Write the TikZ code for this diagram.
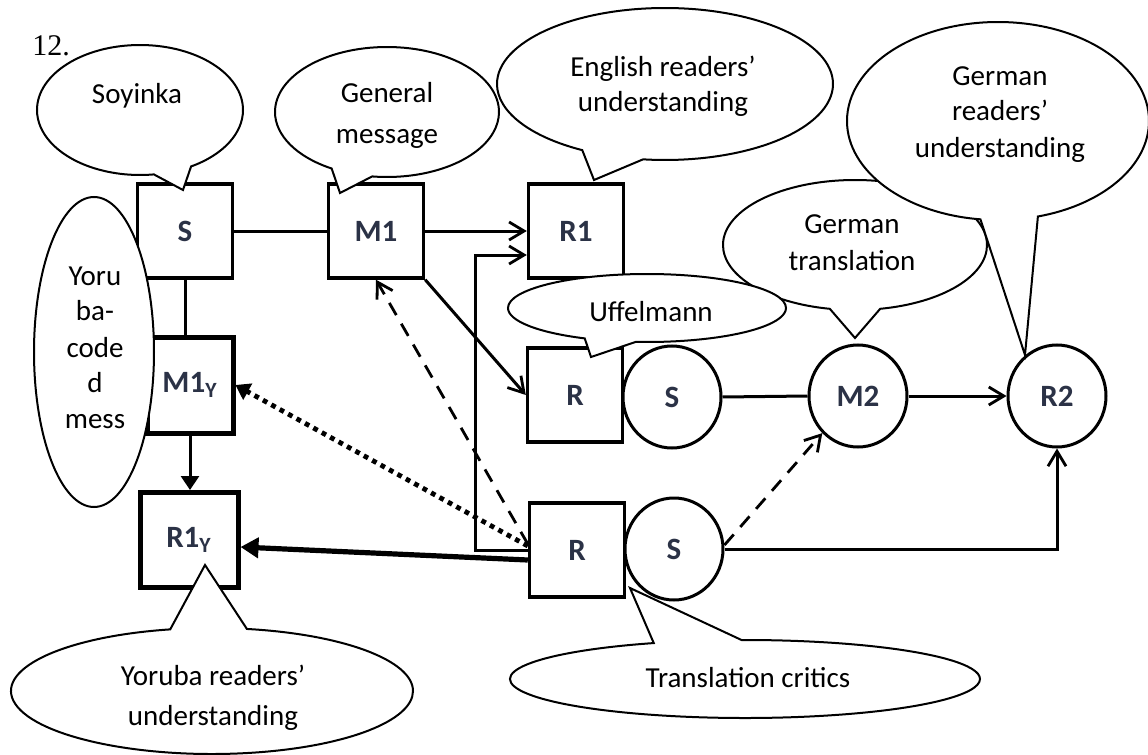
\documentclass[tikz,border=0pt]{standalone}
\usepackage{fontspec}
\setmainfont{Carlito}
\newfontfamily\tnrfont{Liberation Serif}
\usetikzlibrary{shapes.geometric,shapes.callouts,arrows.meta,calc}
\definecolor{labc}{HTML}{2B3246}
\tikzset{
  box/.style={draw, line width=1.7pt, minimum width=47.5pt, minimum height=47pt, inner sep=0pt,
    font=\bfseries\fontsize{15.5}{18}\selectfont, text=labc},
  tbox/.style={box, line width=2.5pt},
  circ/.style={ellipse, draw, line width=1.5pt, minimum width=49pt, minimum height=51pt, inner sep=0pt,
    font=\bfseries\fontsize{15.5}{18}\selectfont, text=labc},
  conn/.style={line width=1.5pt},
  dashpat/.style={line width=1.4pt, dash pattern=on 7pt off 5pt},
  dotpat/.style={line width=2.4pt, dash pattern=on 2.4pt off 2.4pt},
  thickl/.style={line width=2.6pt},
  oarr/.style={-{Straight Barb[length=7.5pt,width=9pt,line width=1.4pt]}},
  farr/.style={-{Triangle[length=7pt,width=9pt]}},
  farrb/.style={-{Triangle[length=9pt,width=10pt]}},
  bub/.style={ellipse callout, draw, fill=white, line width=1pt, inner sep=0pt, callout pointer arc=22},
  btxt/.style={font=\fontsize{14.5}{18}\selectfont, anchor=base, inner sep=0pt},
}
\begin{document}
\begin{tikzpicture}[x=0.5pt,y=-0.5pt]
\useasboundingbox (0,0) rectangle (1148,755);
\fill[white] (0,0) rectangle (1148,755);

\node[anchor=base west, inner sep=0pt, font=\tnrfont\fontsize{15}{18}\selectfont] (num) at (32,55) {12.};

% boxes and circles
\node[box] (S) at (185,231) {S};
\node[box] (M1) at (376,231) {M1};
\node[box] (R1) at (576,231) {R1};
\node[box] (Ru) at (575,395) {R};
\node[box] (Rl) at (577,550) {R};
\node[tbox, minimum width=43pt, minimum height=48pt] (M1Y) at (190,385) {M1\textsubscript{Y}};
\node[tbox, minimum width=49pt, minimum height=47.5pt] (R1Y) at (189,540) {R1\textsubscript{Y}};
\node[circ] (Su) at (672,397) {S};
\node[circ] (Sl) at (674,549) {S};
\node[circ] (M2) at (858,396) {M2};
\node[circ] (R2) at (1057,396) {R2};

% connectors
\draw[conn] (S.east) -- (M1.west);
\draw[conn,oarr] (M1.east) -- (R1.west);
\draw[conn,oarr] (M1.south east) -- (Ru.west);
\coordinate (bk) at (475,255);
\draw[conn,oarr] (Rl.west) -| (bk) -- (bk -| R1.west);
\draw[dashpat,oarr] ($(Rl.west)+(0,-6)$) -- (M1.south);
\draw[dotpat,farr] ($(Rl.west)+(0,-4)$) -- (M1Y.east);
\draw[thickl,farrb] ($(Rl.west)+(0,10)$) -- ($(R1Y.east)+(0,7)$);
\draw[conn] (S.south) -- (S.south |- M1Y.north);
\draw[conn,farr] (M1Y.south) -- (M1Y.south |- R1Y.north);
\draw[conn] (Su.east) -- (M2.west);
\draw[conn,oarr] (M2.east) -- (R2.west);
\draw[conn,oarr] (Sl.east) -| (R2.south);
\draw[dashpat,oarr] ($(Sl.east)+(0,-4)$) -- (M2.south west);

% callouts
\node[bub, minimum width=103pt, minimum height=65pt, callout absolute pointer={(183,190)}] (bSoy) at (140,110) {};
\node[btxt] (tSoy) at (137,104) {Soyinka};

\node[bub, minimum width=112pt, minimum height=65pt, callout absolute pointer={(340,193)}] (bGen) at (387,112) {};
\node[btxt] (tGen1) at (387,102) {General};
\node[btxt] (tGen2) at (387,143) {message};

\node[bub, minimum width=168pt, minimum height=76pt, callout absolute pointer={(594,180)}] (bEng) at (665,84) {};
\node[btxt] (tEng1) at (663,76) {English readers’};
\node[btxt] (tEng2) at (663,112) {understanding};

\node[bub, minimum width=132pt, minimum height=65pt, callout absolute pointer={(855,338)}] (bGT) at (855,245) {};
\node[btxt] (tGT1) at (852,233) {German};
\node[btxt] (tGT2) at (852,270) {translation};

\node[bub, minimum width=151pt, minimum height=99pt, callout absolute pointer={(1025,355)}] (bGR) at (998,121) {};
\node[btxt] (tGR1) at (1000,85) {German};
\node[btxt] (tGR2) at (1000,120) {readers’};
\node[btxt] (tGR3) at (1000,157) {understanding};

\node[bub, minimum width=139pt, minimum height=34pt, callout absolute pointer={(591,357)}] (bUff) at (647,308) {};
\node[btxt] (tUff) at (651,321) {Uffelmann};

\node[bub, minimum width=235pt, minimum height=39pt, callout absolute pointer={(630,588)}] (bTC) at (745,679) {};
\node[btxt] (tTC) at (748,687) {Translation critics};

\node[bub, minimum width=201pt, minimum height=63pt, callout absolute pointer={(205,565)}] (bYR) at (212,691) {};
\node[btxt] (tYR1) at (213,685) {Yoruba readers’};
\node[btxt] (tYR2) at (213,725) {understanding};

\node[ellipse, draw, fill=white, line width=1pt, inner sep=0pt, minimum width=60pt, minimum height=155pt] (bYC) at (94,352) {};
\node[btxt] (tYC1) at (95,285) {Yoru};
\node[btxt] (tYC2) at (95,320) {ba-};
\node[btxt] (tYC3) at (95,357) {code};
\node[btxt] (tYC4) at (95,392) {d};
\node[btxt] (tYC5) at (95,428) {mess};
\end{tikzpicture}
\end{document}
